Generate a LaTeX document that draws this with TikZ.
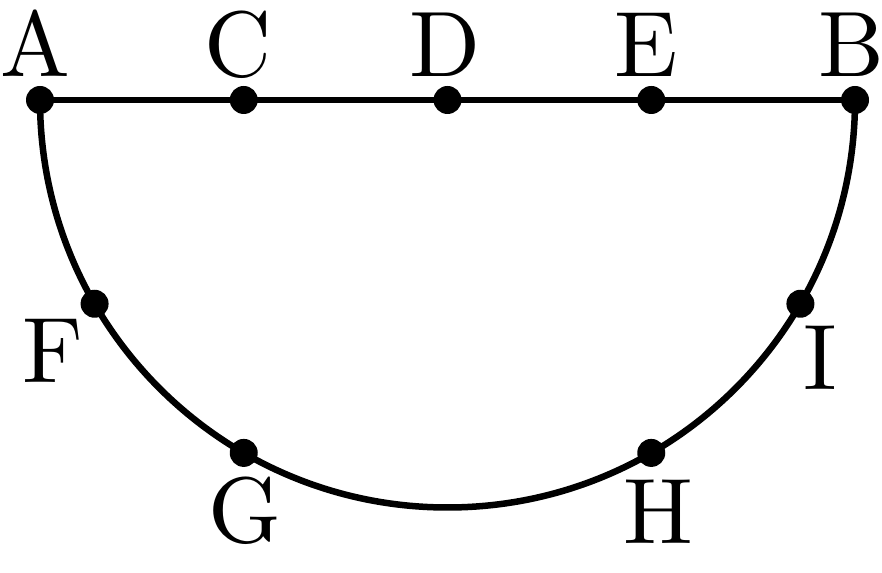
\documentclass[tikz,border=0pt]{standalone}
\usepackage{fontspec}
\setmainfont{lmroman10-regular}[Extension=.otf]
\begin{document}
\begin{tikzpicture}[x=1pt,y=1pt,
  dot/.style={fill=black,circle,inner sep=0pt,minimum size=28pt},
  curve/.style={line width=6.5pt},
  lbl/.style={inner sep=0pt,anchor=base,font=\fontsize{93}{93}\selectfont}]
\useasboundingbox (0,0) rectangle (882,572);
\coordinate (O) at (447.5,472);
\coordinate (A) at (40,472);
\coordinate (B) at (855,472);
\coordinate (C) at (243.75,472);
\coordinate (D) at (447.5,472);
\coordinate (E) at (651.25,472);
\coordinate (F) at ([shift={(O)}]210:407.5);
\coordinate (G) at ([shift={(O)}]240:407.5);
\coordinate (H) at ([shift={(O)}]300:407.5);
\coordinate (I) at ([shift={(O)}]330:407.5);
\draw[curve] (A) -- (B);
\draw[curve] (A) arc[start angle=180,end angle=360,radius=407.5];
\foreach \p in {A,B,C,D,E,F,G,H,I} \node[dot] (d\p) at (\p) {};
\node[lbl] (lA) at (35,495) {A};
\node[lbl] (lC) at (238,495) {C};
\node[lbl] (lD) at (445,495) {D};
\node[lbl] (lE) at (646,495) {E};
\node[lbl] (lB) at (851,495) {B};
\node[lbl] (lF) at (53,189) {F};
\node[lbl] (lI) at (820,182) {I};
\node[lbl] (lG) at (245,29) {G};
\node[lbl] (lH) at (658,28) {H};
\end{tikzpicture}
\end{document}
